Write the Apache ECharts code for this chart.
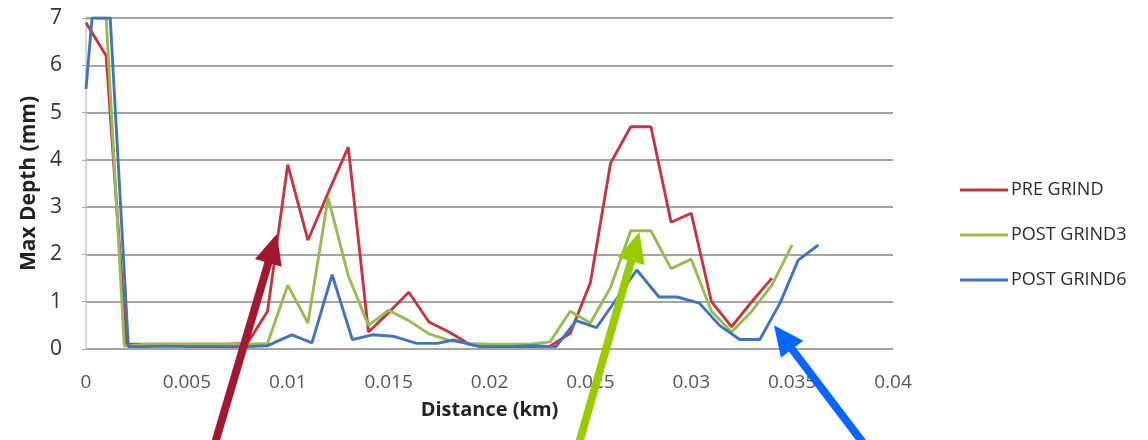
<!DOCTYPE html>
<html>
<head>
<meta charset="utf-8">
<script src="https://cdn.jsdelivr.net/npm/echarts@6/dist/echarts.min.js"></script>
<style>html,body{margin:0;padding:0;background:#fff}#c{width:1148px;height:440px}</style>
</head>
<body>
<div id="c"></div>
<script>
// Data: [distance (km), max depth (mm)]
var seriesNames = ['PRE GRIND', 'POST GRIND3', 'POST GRIND6'];
var preGrind = [[0,6.9],[0.001,6.2],[0.002,0.1],[0.003,0.1],[0.004,0.1],[0.005,0.1],[0.006,0.1],[0.007,0.1],[0.008,0.12],[0.009,0.8],[0.010,3.9],[0.011,2.3],[0.012,3.3],[0.013,4.27],[0.014,0.36],[0.015,0.77],[0.016,1.2],[0.017,0.57],[0.018,0.36],[0.019,0.1],[0.020,0.05],[0.021,0.05],[0.022,0.05],[0.023,0.06],[0.024,0.33],[0.025,1.4],[0.026,3.93],[0.027,4.7],[0.028,4.7],[0.029,2.68],[0.030,2.87],[0.031,1.0],[0.032,0.47],[0.033,1.0],[0.034,1.5]];
var postGrind3 = [[0,7],[0.001,7],[0.0019,0.06],[0.003,0.1],[0.004,0.1],[0.005,0.1],[0.006,0.1],[0.007,0.1],[0.008,0.1],[0.009,0.12],[0.010,1.35],[0.011,0.55],[0.012,3.2],[0.013,1.55],[0.014,0.5],[0.015,0.82],[0.016,0.6],[0.017,0.32],[0.018,0.18],[0.019,0.12],[0.020,0.1],[0.021,0.1],[0.022,0.1],[0.023,0.15],[0.024,0.8],[0.025,0.55],[0.026,1.3],[0.027,2.5],[0.028,2.5],[0.029,1.7],[0.030,1.9],[0.031,0.8],[0.032,0.36],[0.033,0.8],[0.034,1.35],[0.035,2.2]];
var postGrind6 = [[0,5.5],[0.0003,7],[0.0012,7],[0.0021,0.05],[0.003,0.05],[0.004,0.06],[0.005,0.05],[0.006,0.05],[0.007,0.05],[0.008,0.05],[0.009,0.07],[0.0102,0.3],[0.0112,0.13],[0.0122,1.57],[0.0132,0.2],[0.0142,0.3],[0.0152,0.27],[0.0164,0.12],[0.0174,0.12],[0.0182,0.19],[0.0195,0.05],[0.021,0.05],[0.022,0.07],[0.0233,0.05],[0.0243,0.6],[0.0253,0.45],[0.0273,1.67],[0.0284,1.1],[0.0293,1.1],[0.0304,0.97],[0.0314,0.5],[0.0324,0.2],[0.0334,0.2],[0.0344,0.97],[0.0353,1.88],[0.0363,2.2]];
var xTicks = [0, 0.005, 0.01, 0.015, 0.02, 0.025, 0.03, 0.035, 0.04];
var yTicks = [0, 1, 2, 3, 4, 5, 6, 7];
// Annotation arrows: [tail, tip] in data coordinates
var arrowRed = [[0.00625, -2.2], [0.00946, 2.43]];
var arrowGreen = [[0.0243, -2.2], [0.02743, 2.47]];
var arrowBlue = [[0.0389, -2.2], [0.0341, 0.5]];

var colors = ['#c8343f', '#96bd4e', '#3f74c0'];
var chart = echarts.init(document.getElementById('c'), null, {renderer: 'canvas'});
var font = '"Open Sans", "Liberation Sans", sans-serif';
chart.setOption({
  animation: false,
  color: colors,
  grid: {left: 86, right: 255, top: 18, bottom: 91},
  legend: {
    orient: 'vertical', left: 955, top: 176,
    itemWidth: 48, itemHeight: 18, itemGap: 27,
    icon: 'path://M0,7.5 L48,7.5 L48,10.5 L0,10.5 Z',
    textStyle: {fontFamily: font, fontSize: 18, color: '#2a2a2a', padding: [0,0,0,-2]},
    data: seriesNames
  },
  xAxis: {
    type: 'value', min: xTicks[0], max: xTicks[xTicks.length-1], interval: xTicks[1]-xTicks[0],
    name: 'Distance (km)', nameLocation: 'middle', nameGap: 51,
    nameTextStyle: {fontFamily: font, fontSize: 20, fontWeight: 'bold', color: '#222'},
    axisLine: {show: false},
    axisTick: {show: false},
    splitLine: {show: false},
    axisLabel: {fontFamily: font, fontSize: 19, color: '#555', margin: 24,
      formatter: function(v){ return String(parseFloat(v.toFixed(3))); }}
  },
  yAxis: {
    type: 'value', min: yTicks[0], max: yTicks[yTicks.length-1], interval: 1,
    name: 'Max Depth (mm)', nameLocation: 'middle', nameGap: 45, nameRotate: 90,
    nameTextStyle: {fontFamily: font, fontSize: 21, fontWeight: 'bold', color: '#222'},
    axisLine: {show: true, lineStyle: {color: '#c8c8c8', width: 1.5}},
    axisTick: {show: true, length: 4, lineStyle: {color: '#aaa'}},
    splitLine: {show: true, lineStyle: {color: '#a4a4a4', width: 1.8}},
    axisLabel: {fontFamily: font, fontSize: 21, color: '#333', margin: 24}
  },
  series: [
    {name: seriesNames[0], type: 'line', data: preGrind, showSymbol: false, lineStyle: {width: 2.9}, z: 3},
    {name: seriesNames[1], type: 'line', data: postGrind3, showSymbol: false, lineStyle: {width: 2.9}, z: 4},
    {name: seriesNames[2], type: 'line', data: postGrind6, showSymbol: false, lineStyle: {width: 2.9}, z: 5}
  ]
});

function arrow(pts, color, w, hl, hw) {
  var p0 = chart.convertToPixel({gridIndex: 0}, pts[0]);
  var p1 = chart.convertToPixel({gridIndex: 0}, pts[1]);
  var dx = p1[0]-p0[0], dy = p1[1]-p0[1], L = Math.sqrt(dx*dx+dy*dy);
  var ux = dx/L, uy = dy/L, nx = -uy, ny = ux;
  var bx = p1[0]-ux*hl, by = p1[1]-uy*hl;
  return [
    {type: 'line', z: 100, shape: {x1: p0[0], y1: p0[1], x2: bx+ux*2, y2: by+uy*2},
     style: {stroke: color, lineWidth: w}},
    {type: 'polygon', z: 100, shape: {points: [[p1[0],p1[1]],[bx+nx*hw/2, by+ny*hw/2],[bx-nx*hw/2, by-ny*hw/2]]},
     style: {fill: color}}
  ];
}
chart.setOption({graphic: [].concat(
  arrow(arrowRed, '#a3172f', 8, 30, 28),
  arrow(arrowGreen, '#99cc00', 8, 30, 28),
  arrow(arrowBlue, '#0a66ff', 8, 30, 28)
)});
</script>
</body>
</html>
